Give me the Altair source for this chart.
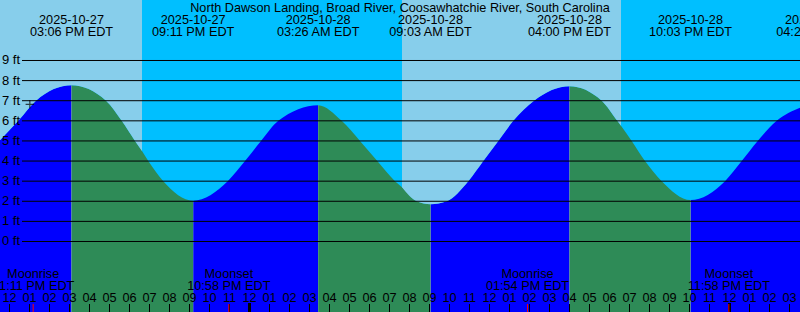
import altair as alt
import pandas as pd

T0 = pd.Timestamp("2025-10-27 12:00")
X_MIN, X_MAX = -0.475, 39.525          # hours after T0 shown across the chart
Y_MIN, Y_MAX = -3.5055, 12.008         # feet shown from bottom to top

def hrs(s):
    return (pd.Timestamp(s) - T0).total_seconds() / 3600.0

TITLE = "North Dawson Landing, Broad River, Coosawhatchie River, South Carolina"
FONT = "Liberation Sans"

# --- tide extremes (high / low) ---
ext_times = ["2025-10-27 15:06", "2025-10-27 21:11", "2025-10-28 03:26",
             "2025-10-28 09:03", "2025-10-28 16:00", "2025-10-28 22:03",
             "2025-10-29 04:24"]
ext_ft = [7.77, 2.03, 6.78, 1.85, 7.72, 2.06, None]

# --- sun events (day / night background) ---
sun_times = ["2025-10-27 18:37:30", "2025-10-28 07:37:30", "2025-10-28 18:34:30"]
sun_kind = ["sunset", "sunrise", "sunset"]
sun_ft = [4.5, 2.7, 5.75]   # tide height read at those moments

# --- moon events ---
moon_times = ["2025-10-27 13:11", "2025-10-27 22:58", "2025-10-28 13:54", "2025-10-28 23:58"]
moon_kind = ["Moonrise", "Moonset", "Moonrise", "Moonset"]

# --- tide curve readings (hours after T0, feet) ---
curve_h = [-0.475, 0.44, 1.325, 4.825, 5.61, 6.275, 6.94, 7.69,
           10.91, 11.775, 12.575, 13.44, 16.61, 17.525, 18.39, 19.275, 20.36,
           21.86, 22.94, 23.69, 24.44, 25.19, 26.225, 29.61, 30.39, 31.11,
           31.775, 32.61, 35.775, 36.61, 37.41, 38.36, 39.525]
curve_ft = [5.04, 6.0, 7.0, 7.0, 6.0, 5.0, 4.0, 3.0,
            3.0, 4.0, 5.0, 6.0, 6.0, 5.0, 4.0, 3.0, 2.0,
            2.0, 3.0, 4.0, 5.0, 6.0, 7.0, 7.0, 6.0, 5.0,
            4.0, 3.0, 3.0, 4.0, 5.0, 6.0, 6.65]

# current time marker
now_time = "2025-10-27 13:01"
now_ft = 6.82

ft_levels = list(range(0, 10))
hour_ticks = pd.date_range("2025-10-27 12:00", "2025-10-29 03:00", freq="h")

# ---------------- tables ----------------
ext_h = [hrs(t) for t in ext_times]
sun_h = [hrs(t) for t in sun_times]

pts = [(h, f) for h, f in zip(curve_h, curve_ft)]
pts += [(h, f) for h, f in zip(ext_h, ext_ft) if f is not None]
pts += [(h, f) for h, f in zip(sun_h, sun_ft)]
curve = pd.DataFrame(pts, columns=["h", "ft"]).sort_values("h").reset_index(drop=True)
curve["top"] = Y_MAX

# tide phase intervals (rising = flood, falling = ebb)
bounds = [X_MIN] + ext_h
phase_rows = []
for i in range(len(bounds) - 1):
    phase_rows.append({"start": bounds[i], "end": bounds[i + 1],
                       "phase": "rising" if i % 2 == 0 else "falling"})
phases = pd.DataFrame(phase_rows)

# day segments above the curve
day_bounds = [(X_MIN, sun_h[0]), (sun_h[1], sun_h[2])]
day_rows = []
for k, (a, b) in enumerate(day_bounds):
    seg = curve[(curve.h >= a - 1e-9) & (curve.h <= b + 1e-9)].copy()
    seg["seg"] = f"s{k}"
    day_rows.append(seg)
day = pd.concat(day_rows).reset_index(drop=True)

ext_lab = pd.DataFrame({
    "h": ext_h,
    "date": [pd.Timestamp(t).strftime("%Y-%m-%d") for t in ext_times],
    "time": [pd.Timestamp(t).strftime("%I:%M %p EDT") for t in ext_times],
})
moon = pd.DataFrame({
    "h": [hrs(t) for t in moon_times],
    "kind": moon_kind,
    "time": [pd.Timestamp(t).strftime("%I:%M %p EDT") for t in moon_times],
})
ticks = pd.DataFrame({
    "h": [(t - T0).total_seconds() / 3600 for t in hour_ticks],
    "lab": [f"{(t.hour % 12) or 12:02d}" for t in hour_ticks],
    "midnight": [t.hour == 0 for t in hour_ticks],
})
levels = pd.DataFrame({"ft": ft_levels, "lab": [f"{v} ft" for v in ft_levels]})
now = pd.DataFrame({"h": [hrs(now_time)], "ft": [now_ft]})

xs = alt.Scale(domain=[X_MIN, X_MAX], nice=False, zero=False)
ys = alt.Scale(domain=[Y_MIN, Y_MAX], nice=False, zero=False)
X = lambda f="h": alt.X(f"{f}:Q", scale=xs, axis=None)
Y = lambda f="ft": alt.Y(f"{f}:Q", scale=ys, axis=None)

W, H = 800, 312

rising = alt.Chart(phases).transform_filter("datum.phase == 'rising'").mark_rect(
    color="#0000FF", clip=True).encode(
    x=X("start"), x2="end:Q", y=alt.value(0), y2=alt.value(H))
falling = alt.Chart(phases).transform_filter("datum.phase == 'falling'").mark_rect(
    color="#2E8B57", clip=True).encode(
    x=X("start"), x2="end:Q", y=alt.value(0), y2=alt.value(H))

night_sky = alt.Chart(curve).mark_area(color="#00BFFF", interpolate="monotone",
                                       orient="vertical").encode(
    x=X(), y=Y(), y2=alt.Y2("top:Q"))
day_sky = alt.Chart(day).mark_area(color="#87CEEB", interpolate="monotone",
                                   orient="vertical").encode(
    x=X(), y=Y(), y2=alt.Y2("top:Q"), detail="seg:N")

lines = alt.Chart(levels).mark_rule(color="black", strokeWidth=1).encode(
    y=Y(), x=alt.value(22), x2=alt.value(W))
ft_text = alt.Chart(levels).mark_text(font=FONT, fontSize=13, align="left",
                                     baseline="middle", color="black").encode(
    y=Y(), x=alt.value(2), text="lab:N")

title = alt.Chart(pd.DataFrame({"t": [TITLE]})).mark_text(
    font=FONT, fontSize=12.7, align="center", baseline="alphabetic", color="black").encode(
    x=alt.value(W / 2), y=alt.value(12), text="t:N")

ext_date = alt.Chart(ext_lab).mark_text(font=FONT, fontSize=12.7, align="center",
                                       baseline="alphabetic", color="black").encode(
    x=X(), y=alt.value(24), text="date:N")
ext_time = alt.Chart(ext_lab).mark_text(font=FONT, fontSize=12.7, align="center",
                                       baseline="alphabetic", color="black").encode(
    x=X(), y=alt.value(36), text="time:N")

moon_kind_t = alt.Chart(moon).mark_text(font=FONT, fontSize=12.7, align="center",
                                       baseline="alphabetic", color="black").encode(
    x=X(), y=alt.value(278), text="kind:N")
moon_time_t = alt.Chart(moon).mark_text(font=FONT, fontSize=12.7, align="center",
                                       baseline="alphabetic", color="black").encode(
    x=X(), y=alt.value(289.5), text="time:N")

hour_text = alt.Chart(ticks).mark_text(font=FONT, fontSize=12.7, align="center",
                                      baseline="alphabetic", color="black").encode(
    x=X(), y=alt.value(301.5), text="lab:N")
hour_tick = alt.Chart(ticks).transform_filter("!datum.midnight").mark_rule(
    color="black", strokeWidth=1).encode(x=X(), y=alt.value(304), y2=alt.value(H))
mid_tick = alt.Chart(ticks).transform_filter("datum.midnight").mark_rule(
    color="black", strokeWidth=3).encode(x=X(), y=alt.value(303), y2=alt.value(H))
moon_tick = alt.Chart(moon).mark_rule(color="red", strokeWidth=1).encode(
    x=X(), y=alt.value(304), y2=alt.value(H))

now_mark = alt.Chart(now).mark_point(shape="M-1,0L1,0M0,-1L0,1", size=72,
                                     stroke="black", strokeWidth=1.2, filled=False).encode(
    x=X(), y=Y())

chart = alt.layer(
    rising, falling, night_sky, day_sky, lines, ft_text, title,
    ext_date, ext_time, moon_kind_t, moon_time_t, hour_text,
    hour_tick, mid_tick, moon_tick, now_mark
).properties(width=W, height=H, padding=0, autosize=alt.AutoSizeParams(type="none")
).configure_view(strokeWidth=0)

chart.save("out.html", embed_options={"renderer": "svg", "actions": False})
